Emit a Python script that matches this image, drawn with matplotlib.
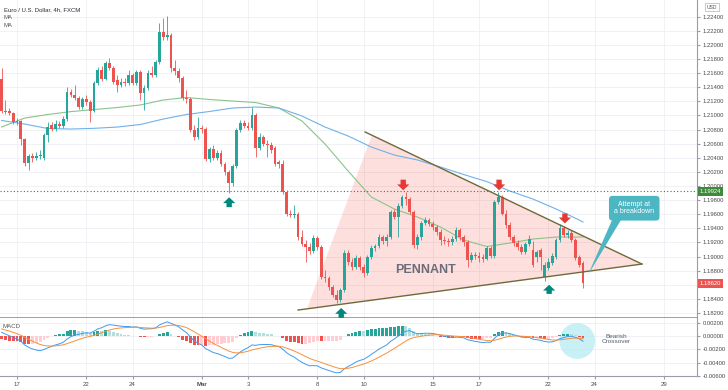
import numpy as np
import matplotlib
matplotlib.use("Agg")
import matplotlib.pyplot as plt
import matplotlib.transforms as mtransforms
from matplotlib.patches import Polygon, Ellipse

# 4h bars, index 0 = 17 Feb 00:00 (6 bars per trading day), first bar index -4
first_bar = -4
opens = [
    1.2152, 1.2106, 1.2106, 1.2103, 1.2091, 1.2092, 1.2067, 1.2032, 1.2043, 1.2040, 1.2043, 1.2040,
    1.2072, 1.2086, 1.2081, 1.2088, 1.2085, 1.2095, 1.2133, 1.2129, 1.2125, 1.2112, 1.2123, 1.2119,
    1.2106, 1.2146, 1.2164, 1.2152, 1.2174, 1.2167, 1.2150, 1.2143, 1.2147, 1.2146, 1.2157, 1.2146,
    1.2162, 1.2132, 1.2139, 1.2160, 1.2157, 1.2176, 1.2218, 1.2211, 1.2214, 1.2167, 1.2163, 1.2153,
    1.2125, 1.2123, 1.2079, 1.2069, 1.2082, 1.2081, 1.2038, 1.2052, 1.2040, 1.2047, 1.2031, 1.2020,
    1.2004, 1.2028, 1.2079, 1.2089, 1.2085, 1.2082, 1.2101, 1.2054, 1.2069, 1.2060, 1.2058, 1.2054,
    1.2034, 1.2031, 1.1991, 1.1961, 1.1959, 1.1960, 1.1928, 1.1918, 1.1914, 1.1908, 1.1926, 1.1914,
    1.1871, 1.1870, 1.1857, 1.1845, 1.1838, 1.1853, 1.1905, 1.1892, 1.1885, 1.1898, 1.1885, 1.1877,
    1.1899, 1.1912, 1.1915, 1.1928, 1.1922, 1.1928, 1.1963, 1.1956, 1.1972, 1.1984, 1.1981, 1.1963,
    1.1917, 1.1928, 1.1947, 1.1952, 1.1946, 1.1942, 1.1935, 1.1923, 1.1922, 1.1921, 1.1925, 1.1938,
    1.1928, 1.1921, 1.1895, 1.1902, 1.1901, 1.1899, 1.1896, 1.1912, 1.1901, 1.1977, 1.1984, 1.1961,
    1.1945, 1.1928, 1.1919, 1.1914, 1.1906, 1.1918, 1.1909, 1.1899, 1.1909, 1.1871, 1.1884, 1.1891,
    1.1899, 1.1923, 1.1940, 1.1931, 1.1934, 1.1923, 1.1899, 1.1891,
]
highs = [
    1.2167, 1.2122, 1.2111, 1.2105, 1.2096, 1.2094, 1.2068, 1.2045, 1.2047, 1.2048, 1.2051, 1.2075,
    1.2091, 1.2091, 1.2094, 1.2092, 1.2099, 1.2140, 1.2138, 1.2143, 1.2127, 1.2126, 1.2129, 1.2122,
    1.2149, 1.2169, 1.2170, 1.2177, 1.2182, 1.2170, 1.2157, 1.2153, 1.2153, 1.2164, 1.2160, 1.2164,
    1.2164, 1.2143, 1.2164, 1.2170, 1.2179, 1.2231, 1.2238, 1.2241, 1.2217, 1.2179, 1.2167, 1.2156,
    1.2136, 1.2126, 1.2086, 1.2098, 1.2086, 1.2084, 1.2055, 1.2058, 1.2051, 1.2051, 1.2034, 1.2023,
    1.2031, 1.2082, 1.2094, 1.2094, 1.2091, 1.2112, 1.2103, 1.2075, 1.2072, 1.2065, 1.2062, 1.2057,
    1.2037, 1.2037, 1.1994, 1.1966, 1.1973, 1.1963, 1.1938, 1.1923, 1.1919, 1.1931, 1.1929, 1.1917,
    1.1881, 1.1873, 1.1860, 1.1853, 1.1855, 1.1909, 1.1909, 1.1898, 1.1902, 1.1901, 1.1889, 1.1902,
    1.1917, 1.1918, 1.1932, 1.1931, 1.1932, 1.1966, 1.1967, 1.1976, 1.1987, 1.1991, 1.1984, 1.1966,
    1.1932, 1.1950, 1.1956, 1.1955, 1.1950, 1.1945, 1.1939, 1.1929, 1.1926, 1.1929, 1.1942, 1.1940,
    1.1931, 1.1923, 1.1906, 1.1906, 1.1906, 1.1903, 1.1915, 1.1915, 1.1980, 1.1991, 1.1987, 1.1966,
    1.1949, 1.1931, 1.1923, 1.1918, 1.1921, 1.1931, 1.1922, 1.1909, 1.1912, 1.1892, 1.1898, 1.1905,
    1.1926, 1.1946, 1.1943, 1.1938, 1.1937, 1.1926, 1.1902, 1.1894,
]
lows = [
    1.2103, 1.2102, 1.2101, 1.2088, 1.2086, 1.2058, 1.2028, 1.2023, 1.2034, 1.2037, 1.2038, 1.2037,
    1.2062, 1.2078, 1.2078, 1.2082, 1.2082, 1.2092, 1.2126, 1.2122, 1.2109, 1.2109, 1.2115, 1.2091,
    1.2105, 1.2143, 1.2149, 1.2150, 1.2164, 1.2145, 1.2133, 1.2140, 1.2142, 1.2143, 1.2143, 1.2143,
    1.2122, 1.2108, 1.2136, 1.2155, 1.2155, 1.2173, 1.2207, 1.2207, 1.2162, 1.2157, 1.2147, 1.2122,
    1.2118, 1.2077, 1.2065, 1.2067, 1.2075, 1.2035, 1.2034, 1.2037, 1.2037, 1.2028, 1.2016, 1.1990,
    1.2000, 1.2026, 1.2077, 1.2082, 1.2079, 1.2079, 1.2041, 1.2051, 1.2057, 1.2041, 1.2047, 1.2028,
    1.2026, 1.1988, 1.1957, 1.1956, 1.1955, 1.1923, 1.1915, 1.1892, 1.1903, 1.1905, 1.1909, 1.1868,
    1.1864, 1.1853, 1.1843, 1.1834, 1.1835, 1.1850, 1.1888, 1.1881, 1.1882, 1.1881, 1.1871, 1.1874,
    1.1896, 1.1908, 1.1912, 1.1918, 1.1915, 1.1925, 1.1953, 1.1928, 1.1969, 1.1973, 1.1960, 1.1912,
    1.1911, 1.1923, 1.1945, 1.1943, 1.1938, 1.1931, 1.1917, 1.1918, 1.1915, 1.1917, 1.1922, 1.1923,
    1.1915, 1.1885, 1.1892, 1.1896, 1.1892, 1.1892, 1.1895, 1.1898, 1.1898, 1.1974, 1.1959, 1.1940,
    1.1923, 1.1915, 1.1909, 1.1903, 1.1903, 1.1915, 1.1885, 1.1892, 1.1881, 1.1865, 1.1881, 1.1888,
    1.1896, 1.1921, 1.1928, 1.1926, 1.1921, 1.1895, 1.1885, 1.1855,
]
closes = [
    1.2106, 1.2105, 1.2103, 1.2091, 1.2092, 1.2067, 1.2032, 1.2043, 1.2040, 1.2043, 1.2044, 1.2072,
    1.2084, 1.2081, 1.2088, 1.2085, 1.2095, 1.2133, 1.2129, 1.2125, 1.2112, 1.2123, 1.2119, 1.2106,
    1.2146, 1.2164, 1.2152, 1.2174, 1.2167, 1.2147, 1.2143, 1.2147, 1.2146, 1.2157, 1.2146, 1.2162,
    1.2132, 1.2139, 1.2160, 1.2157, 1.2176, 1.2218, 1.2211, 1.2214, 1.2167, 1.2163, 1.2153, 1.2125,
    1.2123, 1.2079, 1.2069, 1.2082, 1.2081, 1.2038, 1.2052, 1.2040, 1.2047, 1.2031, 1.2020, 1.2004,
    1.2028, 1.2079, 1.2089, 1.2085, 1.2082, 1.2101, 1.2054, 1.2069, 1.2060, 1.2058, 1.2051, 1.2031,
    1.2031, 1.1991, 1.1961, 1.1959, 1.1960, 1.1928, 1.1918, 1.1914, 1.1908, 1.1926, 1.1914, 1.1871,
    1.1870, 1.1857, 1.1845, 1.1838, 1.1853, 1.1905, 1.1892, 1.1885, 1.1898, 1.1885, 1.1877, 1.1899,
    1.1912, 1.1915, 1.1928, 1.1922, 1.1928, 1.1963, 1.1956, 1.1972, 1.1984, 1.1981, 1.1963, 1.1917,
    1.1928, 1.1947, 1.1952, 1.1946, 1.1942, 1.1935, 1.1923, 1.1922, 1.1921, 1.1925, 1.1938, 1.1928,
    1.1921, 1.1895, 1.1902, 1.1901, 1.1898, 1.1896, 1.1912, 1.1901, 1.1977, 1.1984, 1.1961, 1.1945,
    1.1928, 1.1919, 1.1914, 1.1906, 1.1918, 1.1925, 1.1888, 1.1906, 1.1899, 1.1888, 1.1892, 1.1901,
    1.1923, 1.1940, 1.1931, 1.1934, 1.1923, 1.1898, 1.1888, 1.1862,
]

# moving averages, read once per trading day
ma_bars = [-4, 2, 8, 14, 20, 26, 32, 38, 44, 50, 56, 62, 68, 74, 80, 86, 92, 98,
           104, 110, 116, 122, 128, 134, 140, 146, 147]
ma_green = [1.20837, 1.20964, 1.21014, 1.21055, 1.21085, 1.21113, 1.21149, 1.21220, 1.21255,
            1.21227, 1.21205, 1.21184, 1.21106, 1.20922, 1.20595, 1.20213, 1.19844, 1.19674,
            1.19560, 1.19418, 1.19234, 1.19142, 1.19191, 1.19248, 1.19276, 1.19276, 1.19276]
ma_blue = [1.20929, 1.20879, 1.20815, 1.20808, 1.20818, 1.20836, 1.20872, 1.20950, 1.21014,
           1.21057, 1.21106, 1.21120, 1.21106, 1.20993, 1.20836, 1.20709, 1.20553, 1.20439,
           1.20369, 1.20269, 1.20163, 1.20063, 1.19929, 1.19815, 1.19674, 1.19518, 1.19489]

# MACD(12, 26, 9) state just before the first visible bar
ema_fast_seed = 1.2140
ema_slow_seed = 1.2131
signal_seed = 0.0012

date_ticks = [0, 18, 30, 48, 60, 78, 90, 108, 120, 138, 150, 168]
date_labels = ["17", "22", "24", "Mar", "3", "8", "10", "15", "17", "22", "24", "29"]
price_ticks = [1.182 + 0.002 * k for k in range(22)]
macd_ticks = [0.002, 0.0, -0.002, -0.004, -0.006]

# drawings on the chart
upper_line = ([90.4, 162.3], [1.20766, 1.18893])
lower_line = ([73.0, 162.3], [1.18241, 1.18893])
pennant = [(75.3, 1.18258), (92.2, 1.20723), (162.3, 1.18893)]
red_arrows = [(100.3, 1.2009, 1.1994), (125.2, 1.2009, 1.1994), (142.3, 1.1961, 1.1947)]
green_arrows = [(55.1, 1.1970, 1.1984), (84.2, 1.1813, 1.1827), (138.2, 1.1847, 1.1860)]
hline_price = 1.19924
last_price = 1.18620

up_col, down_col = "#26a69a", "#ef5350"
plt.rcParams["font.family"] = ["Liberation Sans", "DejaVu Sans"]

fig = plt.figure(figsize=(7.28, 3.90), dpi=100)
ax = fig.add_axes([0, 1 - 318 / 390, 697 / 728, 318 / 390])
ax2 = fig.add_axes([0, 1 - 376 / 390, 697 / 728, 58 / 390], sharex=ax)

x = np.arange(first_bar, first_bar + len(closes))
o, h, l, c = map(np.array, (opens, highs, lows, closes))
cols = np.where(c >= o, up_col, down_col)

# pennant shading and trendlines
ax.add_patch(Polygon(pennant, closed=True, fc="#f44336", alpha=0.17, ec="none", zorder=1))
ax.plot(*upper_line, color="#6f6a3a", lw=1.0, zorder=4)
ax.plot(*lower_line, color="#6f6a3a", lw=1.0, zorder=4)

ax.plot(ma_bars, ma_green, color="#8cc38a", lw=0.8, zorder=2)
ax.plot(ma_bars, ma_blue, color="#6fb2ea", lw=0.8, zorder=2)

ax.vlines(x, l, h, colors=cols, lw=0.6, zorder=3)
body = np.maximum(np.abs(c - o), 0.00006)
ax.bar(x, body, bottom=np.minimum(o, c), width=0.72, color=cols, lw=0, zorder=3)

ax.axhline(hline_price, color="#3a7d3a", lw=0.8, ls=(0, (1, 2)), zorder=2)

arrow_style = "simple,head_length=0.6,head_width=1.25,tail_width=0.55"
for bx, y0, y1 in red_arrows:
    ax.annotate("", xy=(bx, y1), xytext=(bx, y0),
                arrowprops=dict(arrowstyle=arrow_style, color="#e53935", lw=0,
                                shrinkA=0, shrinkB=0, mutation_scale=7), zorder=5)
for bx, y0, y1 in green_arrows:
    ax.annotate("", xy=(bx, y1), xytext=(bx, y0),
                arrowprops=dict(arrowstyle=arrow_style, color="#00897b", lw=0,
                                shrinkA=0, shrinkB=0, mutation_scale=7), zorder=5)

ax.text(106.2, 1.1881, "PENNANT", fontsize=9, fontweight="bold", color="#6b6e7a",
        ha="center", va="center", zorder=5)

# callout
ax.add_patch(Polygon([(154.8, 1.1955), (157.2, 1.1955), (148.3, 1.1874)], closed=True,
                     fc="#4db6c3", ec="none", zorder=6))
ax.text(160.3, 1.19685, "Attempt at\na breakdown", fontsize=5, color="white", ha="center",
        va="center", linespacing=1.05, zorder=7,
        bbox=dict(boxstyle="round,pad=0.75,rounding_size=0.5", fc="#4db6c3", ec="none"))

ax.set_xlim(-4.42, 176.6)
ax.set_ylim(1.18128, 1.22638)
ax.set_yticks(price_ticks)
# the 1.18600 label sits under the last-price tag
ax.set_yticklabels(["" if abs(p - last_price) < 0.0005 else f"{p:.5f}" for p in price_ticks])
ax.set_xticks(date_ticks)
ax.grid(True, color="#eef0f4", lw=0.6)
ax.set_axisbelow(True)
ax.yaxis.tick_right()
ax.tick_params(axis="y", length=2, pad=2, labelsize=4.2, labelcolor="#4a4a4a", color="#9a9da6")
ax.tick_params(axis="x", length=0, labelbottom=False)
for s in ("top", "left"):
    ax.spines[s].set_visible(False)
ax.spines["right"].set_color("#9a9da6")
ax.spines["bottom"].set_color("#8c8f98")
ax.spines["bottom"].set_linewidth(1.2)

# price labels on the scale
tr = mtransforms.blended_transform_factory(ax.transAxes, ax.transData)
ax.text(1.004, hline_price, f"{hline_price:.5f}", transform=tr, fontsize=4.2, color="white",
        ha="left", va="center", clip_on=False, zorder=8,
        bbox=dict(boxstyle="square,pad=0.35", fc="#3c8a3c", ec="none"))
ax.text(1.004, last_price, f"{last_price:.5f}", transform=tr, fontsize=4.2, color="white",
        ha="left", va="center", clip_on=False, zorder=8,
        bbox=dict(boxstyle="square,pad=0.35", fc=down_col, ec="none"))

# MACD pane
a_f, a_s, a_sig = 2 / 13, 2 / 27, 2 / 10
ef, es, sg = ema_fast_seed, ema_slow_seed, signal_seed
macd, signal = [], []
for v in closes:
    ef += a_f * (v - ef)
    es += a_s * (v - es)
    m = ef - es
    sg += a_sig * (m - sg)
    macd.append(m)
    signal.append(sg)
macd, signal = np.array(macd), np.array(signal)
hist = macd - signal
prev = np.concatenate([[hist[0]], hist[:-1]])
hcols = np.where(hist >= 0, np.where(hist > prev, "#26a69a", "#b2dfdb"),
                 np.where(hist > prev, "#ffcdd2", "#ef5350"))
ax2.bar(x, hist, width=0.75, color=hcols, lw=0, zorder=2)
ax2.plot(x, macd, color="#3d9bf0", lw=0.7, zorder=3)
ax2.plot(x, signal, color="#f7903a", lw=0.7, zorder=3)

ax2.add_patch(Ellipse((145.5, -0.00075), 9.3, 0.0054, fc="#b2ebf2", alpha=0.7, ec="none", zorder=1))
ax2.text(155.6, -0.00045, "Bearish\nCrossover", fontsize=4.6, color="#555a66", ha="center",
         va="center", linespacing=1.1, zorder=4)
ax2.text(0.004, 0.86, "MACD", transform=ax2.transAxes, fontsize=4.4, color="#555", va="center")

ax2.set_ylim(-0.00602, 0.00271)
ax2.set_yticks(macd_ticks)
ax2.set_yticklabels([f"{v:.5f}" for v in macd_ticks])
ax2.set_xticks(date_ticks)
ax2.set_xticklabels(date_labels)
for t in ax2.get_xticklabels():
    if t.get_text() == "Mar":
        t.set_fontweight("bold")
ax2.grid(True, color="#eef0f4", lw=0.6)
ax2.set_axisbelow(True)
ax2.yaxis.tick_right()
ax2.tick_params(axis="y", length=2, pad=2, labelsize=4.2, labelcolor="#4a4a4a", color="#9a9da6")
ax2.tick_params(axis="x", length=2, pad=2, labelsize=4.4, labelcolor="#4a4a4a", color="#9a9da6")
ax2.spines["top"].set_visible(False)
ax2.spines["left"].set_visible(False)
ax2.spines["right"].set_color("#9a9da6")
ax2.spines["bottom"].set_color("#9a9da6")

# header texts
fig.text(0.005, 0.982, "Euro / U.S. Dollar, 4h, FXCM", fontsize=4.3, color="#2a2e39", va="top")
fig.text(0.005, 0.961, "MA", fontsize=4.3, color="#555", va="top")
fig.text(0.005, 0.940, "MA", fontsize=4.3, color="#555", va="top")
fig.text(0.978, 0.988, "USD", fontsize=3.6, color="#555", va="top", ha="center",
         bbox=dict(boxstyle="square,pad=0.3", fc="white", ec="#b0b3bb", lw=0.5))

fig.savefig("out.png", dpi=100)
